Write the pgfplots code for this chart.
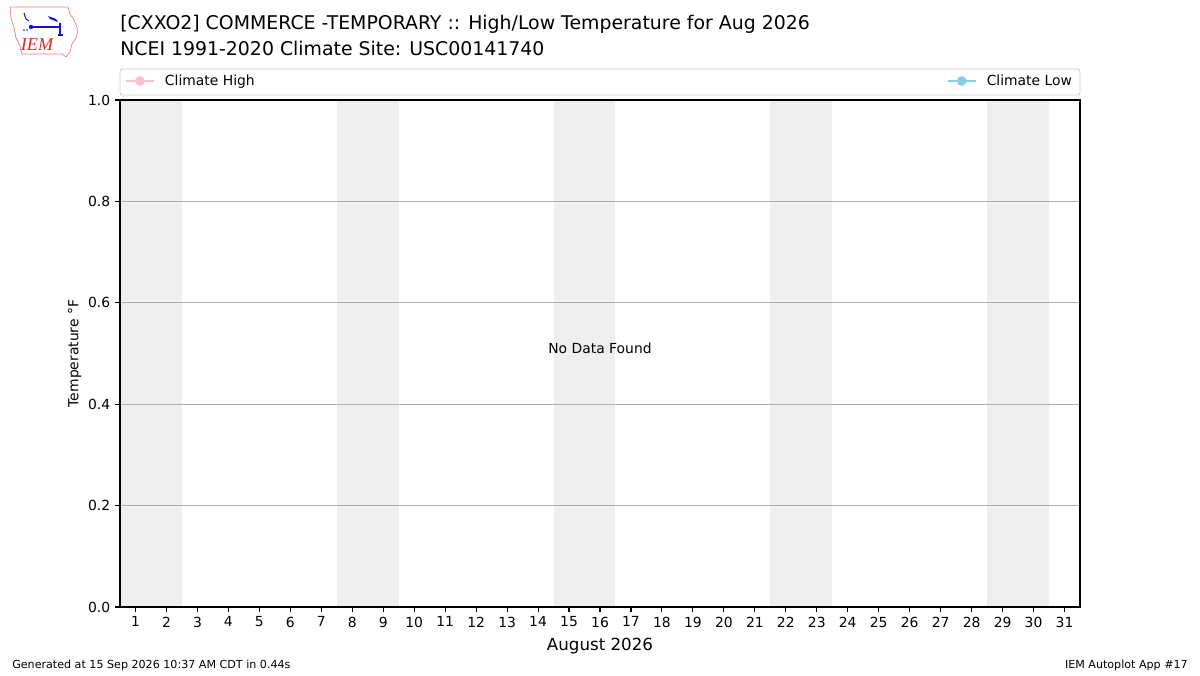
\documentclass[border=0pt]{standalone}
\usepackage{fontspec}
\setmainfont{DejaVu Sans}
\usepackage{pgfplots}
\pgfplotsset{compat=1.18}
\definecolor{band}{RGB}{238,238,238}
\definecolor{gridgray}{RGB}{176,176,176}
\definecolor{hicol}{RGB}{255,192,203}
\definecolor{locol}{RGB}{135,206,235}
\definecolor{iemred}{RGB}{220,40,40}
\definecolor{iemblue}{RGB}{20,20,200}

\pgfplotsset{
  mplegend/.style={
    legend image code/.code={
      \draw[##1, mark repeat=2, mark phase=2] plot coordinates {(0pt,0pt) (10pt,0pt) (20pt,0pt)};
    },
    legend style={draw=none, fill=none, inner sep=0pt, font=\fontsize{10}{12}\selectfont},
  },
}

\begin{document}
\begin{tikzpicture}
  \begin{scope}[x=0.72pt, y=0.72pt]
  \path[use as bounding box] (0,0) rectangle (1200,675);

  % logo
  \draw[iemred!60, line width=0.5pt] (10,668) -- (68,668) -- (70,661) -- (74,655) -- (78,645)
    -- (76,637) -- (72,631) -- (70,623) -- (66,618) -- (62,621) -- (22,621) -- (20,629)
    -- (16,637) -- (14,647) -- (11,657) -- cycle;
  \node[text=iemred, inner sep=0pt] at (37,630)
    {\fontspec{Liberation Serif}\fontsize{13}{13}\selectfont\itshape IEM};
  \draw[iemblue, line width=1pt] (31,648) -- (60,648);
  \fill[iemblue] (31,648) circle (2.2);
  \fill[iemblue] (48,659) -- (56,656) -- (58,653) -- (50,656) -- cycle;
  \draw[iemblue, line width=0.8pt] (60,652) -- (60,640) (58,640) -- (63,640);
  \draw[iemblue, line width=0.7pt] (24,662) -- (26,656) -- (29,654);
  \fill[iemblue] (24,645) circle (0.9) (27,645) circle (0.9);

  % titles
  \node[anchor=west, inner sep=0pt, font=\fontsize{13.6}{16}\selectfont] at (120,651)
    {[CXXO2] COMMERCE -TEMPORARY :: High/Low Temperature for Aug 2026};
  \node[anchor=west, inner sep=0pt, font=\fontsize{13.6}{16}\selectfont] at (120,627)
    {NCEI 1991-2020 Climate Site: USC00141740};

  % footer
  \node[anchor=west, inner sep=0pt, font=\fontsize{8}{10}\selectfont] at (12,10)
    {Generated at 15 Sep 2026 10:37 AM CDT in 0.44s};
  \node[anchor=east, inner sep=0pt, font=\fontsize{8}{10}\selectfont] at (1188,10)
    {IEM Autoplot App \#17};

  % legend frame
  \draw[black!20, fill=white, rounded corners=2pt, line width=0.6pt] (120,580) rectangle (1080,606);
  \end{scope}

  \begin{axis}[
    mplegend,
    at={(86.4pt,48.96pt)}, anchor=south west,
    scale only axis,
    width=691.2pt, height=365.04pt,
    xmin=0.5, xmax=31.5,
    ymin=0, ymax=1,
    xtick={1,...,31},
    ytick={0,0.2,0.4,0.6,0.8,1.0},
    yticklabel style={/pgf/number format/.cd, fixed, fixed zerofill, precision=1},
    /pgf/number format/assume math mode=true,
    tick label style={font=\fontsize{10}{12}\selectfont},
    tick align=outside, tick pos=left,
    major tick length=3.5pt,
    every tick/.style={black, line width=0.8pt},
    axis line style={line width=0.8pt},
    ymajorgrids,
    grid style={gridgray, line width=0.8pt},
    axis on top,
    xlabel={August 2026},
    xlabel style={font=\fontsize{12}{14}\selectfont, yshift=-1pt},
    ylabel={Temperature °F},
    ylabel style={font=\fontsize{10}{12}\selectfont, yshift=-2pt},
    legend style={at={(0.0052,1.0375)}, anchor=west},
  ]
    \addlegendimage{hicol, line width=1.1pt, mark=*, mark size=2.9pt}
    \addlegendentry{\hspace{5.5pt}Climate High}
    % weekend bands
    \addplot[band, fill=band, draw=none, forget plot] coordinates {(0.5,1) (2.5,1)} \closedcycle;
    \addplot[band, fill=band, draw=none, forget plot] coordinates {(7.5,1) (9.5,1)} \closedcycle;
    \addplot[band, fill=band, draw=none, forget plot] coordinates {(14.5,1) (16.5,1)} \closedcycle;
    \addplot[band, fill=band, draw=none, forget plot] coordinates {(21.5,1) (23.5,1)} \closedcycle;
    \addplot[band, fill=band, draw=none, forget plot] coordinates {(28.5,1) (30.5,1)} \closedcycle;
    \node[font=\fontsize{10}{12}\selectfont] at (axis cs:16,0.51) {No Data Found};
  \end{axis}

  \begin{axis}[
    mplegend,
    at={(86.4pt,48.96pt)}, anchor=south west,
    scale only axis,
    width=691.2pt, height=365.04pt,
    xmin=0, xmax=1, ymin=0, ymax=1,
    hide axis,
    legend style={at={(0.9948,1.0375)}, anchor=east},
  ]
    \addlegendimage{locol, line width=1.1pt, mark=*, mark size=2.9pt}
    \addlegendentry{\hspace{5.5pt}Climate Low}
  \end{axis}
\end{tikzpicture}
\end{document}
